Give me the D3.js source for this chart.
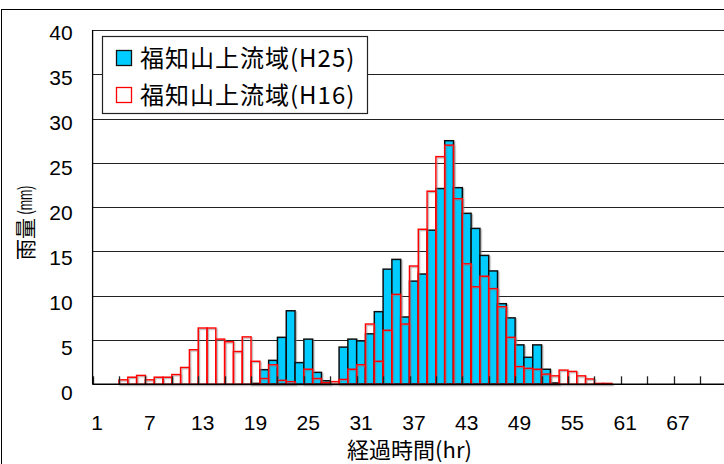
<!DOCTYPE html>
<html>
<head>
<meta charset="utf-8">
<script src="https://cdn.jsdelivr.net/npm/d3@7/dist/d3.min.js"></script>
<style>
  body { margin: 0; background: #fff; }
  svg { display: block; }
  text { font-family: "Liberation Sans", Arial, sans-serif; fill: #000; }
  .jp { font-family: "Noto Sans CJK JP", "Noto Sans", sans-serif; }
</style>
</head>
<body>
<svg id="chart" width="724" height="464"></svg>
<script>
  /*
   * Data
   */

  // Elapsed hours (one bar slot per hour)
  var HOURS = [
     1,  2,  3,  4,  5,  6,  7,  8,  9, 10, 11, 12,
    13, 14, 15, 16, 17, 18, 19, 20, 21, 22, 23, 24,
    25, 26, 27, 28, 29, 30, 31, 32, 33, 34, 35, 36,
    37, 38, 39, 40, 41, 42, 43, 44, 45, 46, 47, 48,
    49, 50, 51, 52, 53, 54, 55, 56, 57, 58, 59, 60,
    61, 62, 63, 64, 65, 66, 67, 68, 69, 70, 71, 72
  ];

  // Hourly rainfall (mm), upstream of Fukuchiyama, H25 event
  var RAIN_H25 = [
    0, 0, 0, 0, 0, 0, 0, 0, 0, 0, 0, 0,
    0, 0, 0, 0, 0, 0, 0.1, 1.65, 2.7, 5.3, 8.3, 2.45,
    5.1, 1.35, 0.4, 0, 4.2, 5.1, 4.9, 5.7, 8.2, 13.0, 14.1, 7.6,
    11.65, 12.45, 17.4, 22.1, 27.5, 22.2, 19.3, 17.6, 14.55, 12.8, 9.1, 7.5,
    4.45, 3.05, 4.45, 1.7, 0.15, 0, 0, 0, 0, 0, 0, 0,
    0, 0, 0, 0, 0, 0, 0, 0, 0, 0, 0, 0
  ];

  // Hourly rainfall (mm), upstream of Fukuchiyama, H16 event
  var RAIN_H16 = [
    0, 0, 0, 0.5, 0.8, 1.0, 0.5, 0.8, 0.8, 1.1, 1.9, 3.9,
    6.35, 6.35, 5.1, 4.8, 3.7, 5.35, 2.6, 0.65, 2.2, 0.45, 0.3, 0,
    1.7, 0.65, 0.2, 0.3, 0.55, 1.7, 2.2, 6.8, 2.6, 6.1, 10.15, 6.8,
    13.35, 17.5, 21.8, 25.7, 27.0, 20.95, 13.6, 11.0, 12.2, 10.8, 8.75, 5.3,
    2.0, 1.8, 1.7, 1.15, 0.95, 1.6, 1.45, 0.95, 0.6, 0.1, 0.1, 0,
    0, 0, 0, 0, 0, 0, 0, 0, 0, 0, 0, 0
  ];

  var X_TICK_LABELS = [1, 7, 13, 19, 25, 31, 37, 43, 49, 55, 61, 67];
  var Y_TICKS = [0, 5, 10, 15, 20, 25, 30, 35, 40];

  var SERIES_NAMES = ["福知山上流域(H25)", "福知山上流域(H16)"];
  var X_TITLE = "経過時間(hr)";
  var Y_TITLE = "雨量";
  var Y_UNIT = "(mm)";

  /*
   * Layout
   */

  var PLOT_LEFT = 92.6;
  var PLOT_RIGHT = 726.4;  // runs a bit past the picture edge
  var PLOT_TOP = 30;
  var PLOT_BOTTOM = 384.3;

  var BLUE = "#00ccff";
  var RED = "#ff0000";

  var svg = d3.select("#chart");

  var X_SCALE = d3.scaleBand()
    .domain(HOURS)
    .range([PLOT_LEFT, PLOT_RIGHT])
    .padding(0);

  var Y_SCALE = d3.scaleLinear()
    .domain([0, 40])
    .range([PLOT_BOTTOM, PLOT_TOP]);

  // the y labels sit slightly lower than their grid lines, more so near 0
  var Y_LABEL_SCALE = d3.scaleLinear()
    .domain([0, 40])
    .range([PLOT_BOTTOM + 8.5, PLOT_TOP + 2.5]);

  // soft shadow like the spreadsheet bars
  var defs = svg.append("defs");
  defs.append("filter")
      .attr("id", "shade")
      .attr("x", "-20%").attr("y", "-20%")
      .attr("width", "150%").attr("height", "150%")
    .append("feDropShadow")
      .attr("dx", 1.2)
      .attr("dy", 1.2)
      .attr("stdDeviation", 0.6)
      .attr("flood-color", "#777")
      .attr("flood-opacity", 0.55);

  // outer chart frame
  svg.append("rect")
    .attr("x", 1.5)
    .attr("y", 9.5)
    .attr("width", 760)
    .attr("height", 480)
    .attr("fill", "#fff")
    .attr("stroke", "#000")
    .attr("stroke-width", 1);

  // grid lines
  svg.append("g")
      .attr("class", "grid")
    .selectAll("line")
    .data(Y_TICKS)
    .enter().append("line")
      .attr("x1", PLOT_LEFT)
      .attr("x2", PLOT_RIGHT)
      .attr("y1", function (d) { return Math.round(Y_SCALE(d)) + 0.5; })
      .attr("y2", function (d) { return Math.round(Y_SCALE(d)) + 0.5; })
      .attr("stroke", "#222")
      .attr("stroke-width", 1);

  // H25 bars (filled)
  svg.append("g")
      .attr("filter", "url(#shade)")
    .selectAll("rect")
    .data(HOURS.filter(function (h, i) { return RAIN_H25[i] > 0; }))
    .enter().append("rect")
      .attr("x", function (h) { return X_SCALE(h); })
      .attr("width", X_SCALE.bandwidth())
      .attr("y", function (h) { return Y_SCALE(RAIN_H25[h - 1]); })
      .attr("height", function (h) { return PLOT_BOTTOM - Y_SCALE(RAIN_H25[h - 1]); })
      .attr("fill", BLUE)
      .attr("stroke", "#111")
      .attr("stroke-width", 1.5);

  // H16 bars (outline only, drawn on top)
  svg.append("g")
      .attr("filter", "url(#shade)")
    .selectAll("rect")
    .data(HOURS.filter(function (h, i) { return RAIN_H16[i] > 0; }))
    .enter().append("rect")
      .attr("x", function (h) { return X_SCALE(h); })
      .attr("width", X_SCALE.bandwidth())
      .attr("y", function (h) { return Y_SCALE(RAIN_H16[h - 1]); })
      .attr("height", function (h) { return PLOT_BOTTOM - Y_SCALE(RAIN_H16[h - 1]); })
      .attr("fill", "none")
      .attr("stroke", RED)
      .attr("stroke-width", 1.5);

  // x axis: labels every 6 hours
  var xAxis = svg.append("g")
    .attr("transform", "translate(0," + PLOT_BOTTOM + ")")
    .call(d3.axisBottom(X_SCALE)
      .tickValues(X_TICK_LABELS)
      .tickSize(0)
      .tickPadding(31));
  xAxis.select(".domain").remove();
  xAxis.selectAll("text")
    .attr("font-size", 21)
    .style("font-family", "'Liberation Sans', Arial, sans-serif");

  // x tick marks every 3 hours, on the slot boundaries, pointing up
  svg.append("g")
    .selectAll("line")
    .data(HOURS.filter(function (h) { return (h - 1) % 3 == 0; }))
    .enter().append("line")
      .attr("x1", function (h) { return Math.round(X_SCALE(h)) + 0.5; })
      .attr("x2", function (h) { return Math.round(X_SCALE(h)) + 0.5; })
      .attr("y1", PLOT_BOTTOM)
      .attr("y2", PLOT_BOTTOM - 8)
      .attr("stroke", "#222")
      .attr("stroke-width", 1.3);

  // y axis labels
  var yAxis = svg.append("g")
    .attr("transform", "translate(" + PLOT_LEFT + ",0)")
    .call(d3.axisLeft(Y_SCALE)
      .tickValues(Y_TICKS)
      .tickSize(0)
      .tickPadding(20));
  yAxis.select(".domain").remove();
  yAxis.selectAll("text")
    .attr("font-size", 21)
    .style("font-family", "'Liberation Sans', Arial, sans-serif")
    .attr("y", function (d) { return Y_LABEL_SCALE(d) - Y_SCALE(d); });

  // axis lines
  svg.append("line")
    .attr("x1", PLOT_LEFT).attr("x2", PLOT_LEFT)
    .attr("y1", PLOT_TOP).attr("y2", PLOT_BOTTOM)
    .attr("stroke", "#000").attr("stroke-width", 1.3);
  svg.append("line")
    .attr("x1", PLOT_LEFT).attr("x2", PLOT_RIGHT)
    .attr("y1", PLOT_BOTTOM).attr("y2", PLOT_BOTTOM)
    .attr("stroke", "#000").attr("stroke-width", 1.5);

  // axis titles
  svg.append("text")
    .attr("class", "jp")
    .attr("x", (PLOT_LEFT + PLOT_RIGHT) / 2)
    .attr("y", 458)
    .attr("text-anchor", "middle")
    .attr("font-size", 22)
    .text(X_TITLE);

  svg.append("text")
    .attr("class", "jp")
    .attr("transform", "translate(33,239) rotate(-90)")
    .attr("text-anchor", "middle")
    .attr("font-size", 21)
    .text(Y_TITLE);
  svg.append("text")
    .attr("transform", "translate(32,200) rotate(-90) scale(0.62,1)")
    .attr("text-anchor", "middle")
    .style("font-size", "20px")
    .text(Y_UNIT);

  // legend
  var legend = svg.append("g")
    .attr("transform", "translate(102,36)");
  legend.append("rect")
    .attr("x", 0.5).attr("y", 0.5)
    .attr("width", 265).attr("height", 77)
    .attr("fill", "#fff")
    .attr("stroke", "#222")
    .attr("stroke-width", 1.2);

  var LEGEND_STYLES = [
    { fill: BLUE, stroke: "#111" },
    { fill: "#fff", stroke: RED }
  ];

  var items = legend.selectAll(".item")
    .data(SERIES_NAMES)
    .enter().append("g")
      .attr("class", "item")
      .attr("transform", function (d, i) { return "translate(0," + (14 + i * 37) + ")"; });
  items.append("rect")
    .attr("x", 14.5)
    .attr("y", 0.5)
    .attr("width", 15)
    .attr("height", 15)
    .attr("fill", function (d, i) { return LEGEND_STYLES[i].fill; })
    .attr("stroke", function (d, i) { return LEGEND_STYLES[i].stroke; })
    .attr("stroke-width", 1.3);
  items.append("text")
    .attr("class", "jp")
    .attr("x", 38)
    .attr("y", 17)
    .attr("font-size", 24)
    .attr("letter-spacing", 1)
    .text(function (d) { return d; });
</script>
</body>
</html>
